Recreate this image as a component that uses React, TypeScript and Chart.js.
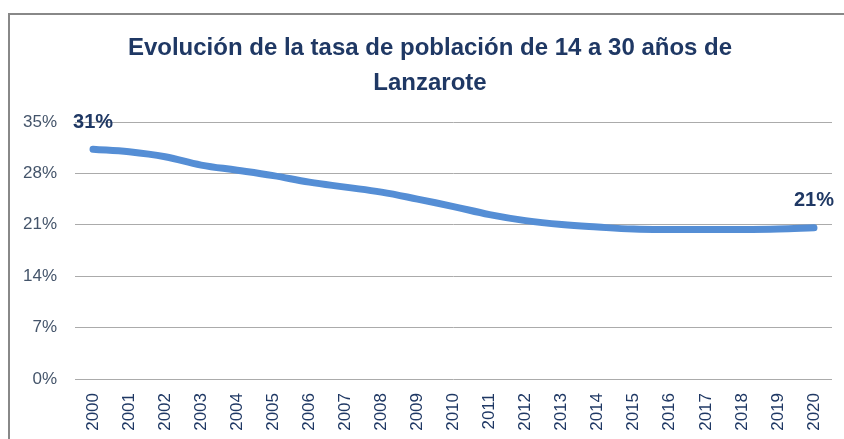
import React, { useEffect, useRef } from 'react';
import { Chart, registerables } from 'chart.js';

Chart.register(...registerables);

const years = ['2000', '2001', '2002', '2003', '2004', '2005', '2006', '2007', '2008', '2009', '2010',
  '2011', '2012', '2013', '2014', '2015', '2016', '2017', '2018', '2019', '2020'];
const rates = [31.3, 30.94, 30.26, 29.13, 28.44, 27.7, 26.81, 26.13, 25.45, 24.5, 23.48,
  22.39, 21.57, 21.03, 20.69, 20.42, 20.35, 20.35, 20.35, 20.42, 20.59];
const titleLines = ['Evolución de la tasa de población de 14 a 30 años de', 'Lanzarote'];
const labeledIndexes = [0, 20];
const labeledTexts = ['31%', '21%'];
const yMin = 0;
const yMax = 35;
const yStep = 7;

const overlayPlugin = {
  id: 'overlay',
  afterDatasetsDraw(chart: any) {
    const ctx = chart.ctx;
    ctx.save();
    ctx.textAlign = 'center';
    ctx.textBaseline = 'middle';
    ctx.fillStyle = '#1F3864';
    ctx.font = 'bold 24px "Liberation Sans"';
    titleLines.forEach((t, i) => ctx.fillText(t, 430, 48 + i * 35));
    const meta = chart.getDatasetMeta(0);
    ctx.font = 'bold 20px "Liberation Sans"';
    labeledIndexes.forEach((idx, i) => {
      const p = meta.data[idx];
      ctx.fillText(labeledTexts[i], p.x, p.y - 27);
    });
    ctx.restore();
  },
};

export default function App() {
  const ref = useRef<HTMLCanvasElement>(null);
  useEffect(() => {
    if (!ref.current) return;
    const chart = new Chart(ref.current, {
      type: 'line',
      data: {
        labels: years,
        datasets: [
          {
            data: rates,
            borderColor: '#558ED5',
            borderWidth: 7,
            borderCapStyle: 'round',
            borderJoinStyle: 'round',
            tension: 0.4,
            pointRadius: 0,
            fill: false,
          },
        ],
      },
      options: {
        animation: false,
        responsive: false,
        maintainAspectRatio: false,
        layout: { padding: { top: 122, right: 12, bottom: 0, left: 0 } },
        plugins: { legend: { display: false }, title: { display: false }, tooltip: { enabled: false } },
        scales: {
          x: {
            offset: true,
            grid: { display: false, drawTicks: false },
            border: { display: false },
            ticks: {
              minRotation: 90,
              maxRotation: 90,
              padding: 14,
              color: '#1F3864',
              font: { family: '"Liberation Sans"', size: 17 },
              autoSkip: false,
            },
            afterFit: (s: any) => { s.height = 60; s.paddingLeft = 0; s.paddingRight = 0; },
          },
          y: {
            min: yMin,
            max: yMax,
            grid: { color: '#ABABAB', lineWidth: 1, drawTicks: false },
            border: { display: false },
            ticks: {
              stepSize: yStep,
              padding: 18,
              color: '#44546A',
              font: { family: '"Liberation Sans"', size: 17 },
              callback: (v: any) => v + '%',
            },
            afterFit: (s: any) => { s.width = 75; },
          },
        },
      },
      plugins: [overlayPlugin],
    });
    return () => chart.destroy();
  }, []);
  return (
    <div style={{ position: 'fixed', left: 0, top: 0, width: 844, height: 439, overflow: 'hidden', background: '#fff' }}>
      <canvas ref={ref} width={844} height={439} style={{ position: 'absolute', left: 0, top: 0 }} />
      <div style={{ position: 'absolute', left: 8, top: 13, width: 900, height: 500, borderTop: '2px solid #888', borderLeft: '2px solid #888', pointerEvents: 'none' }} />
    </div>
  );
}
